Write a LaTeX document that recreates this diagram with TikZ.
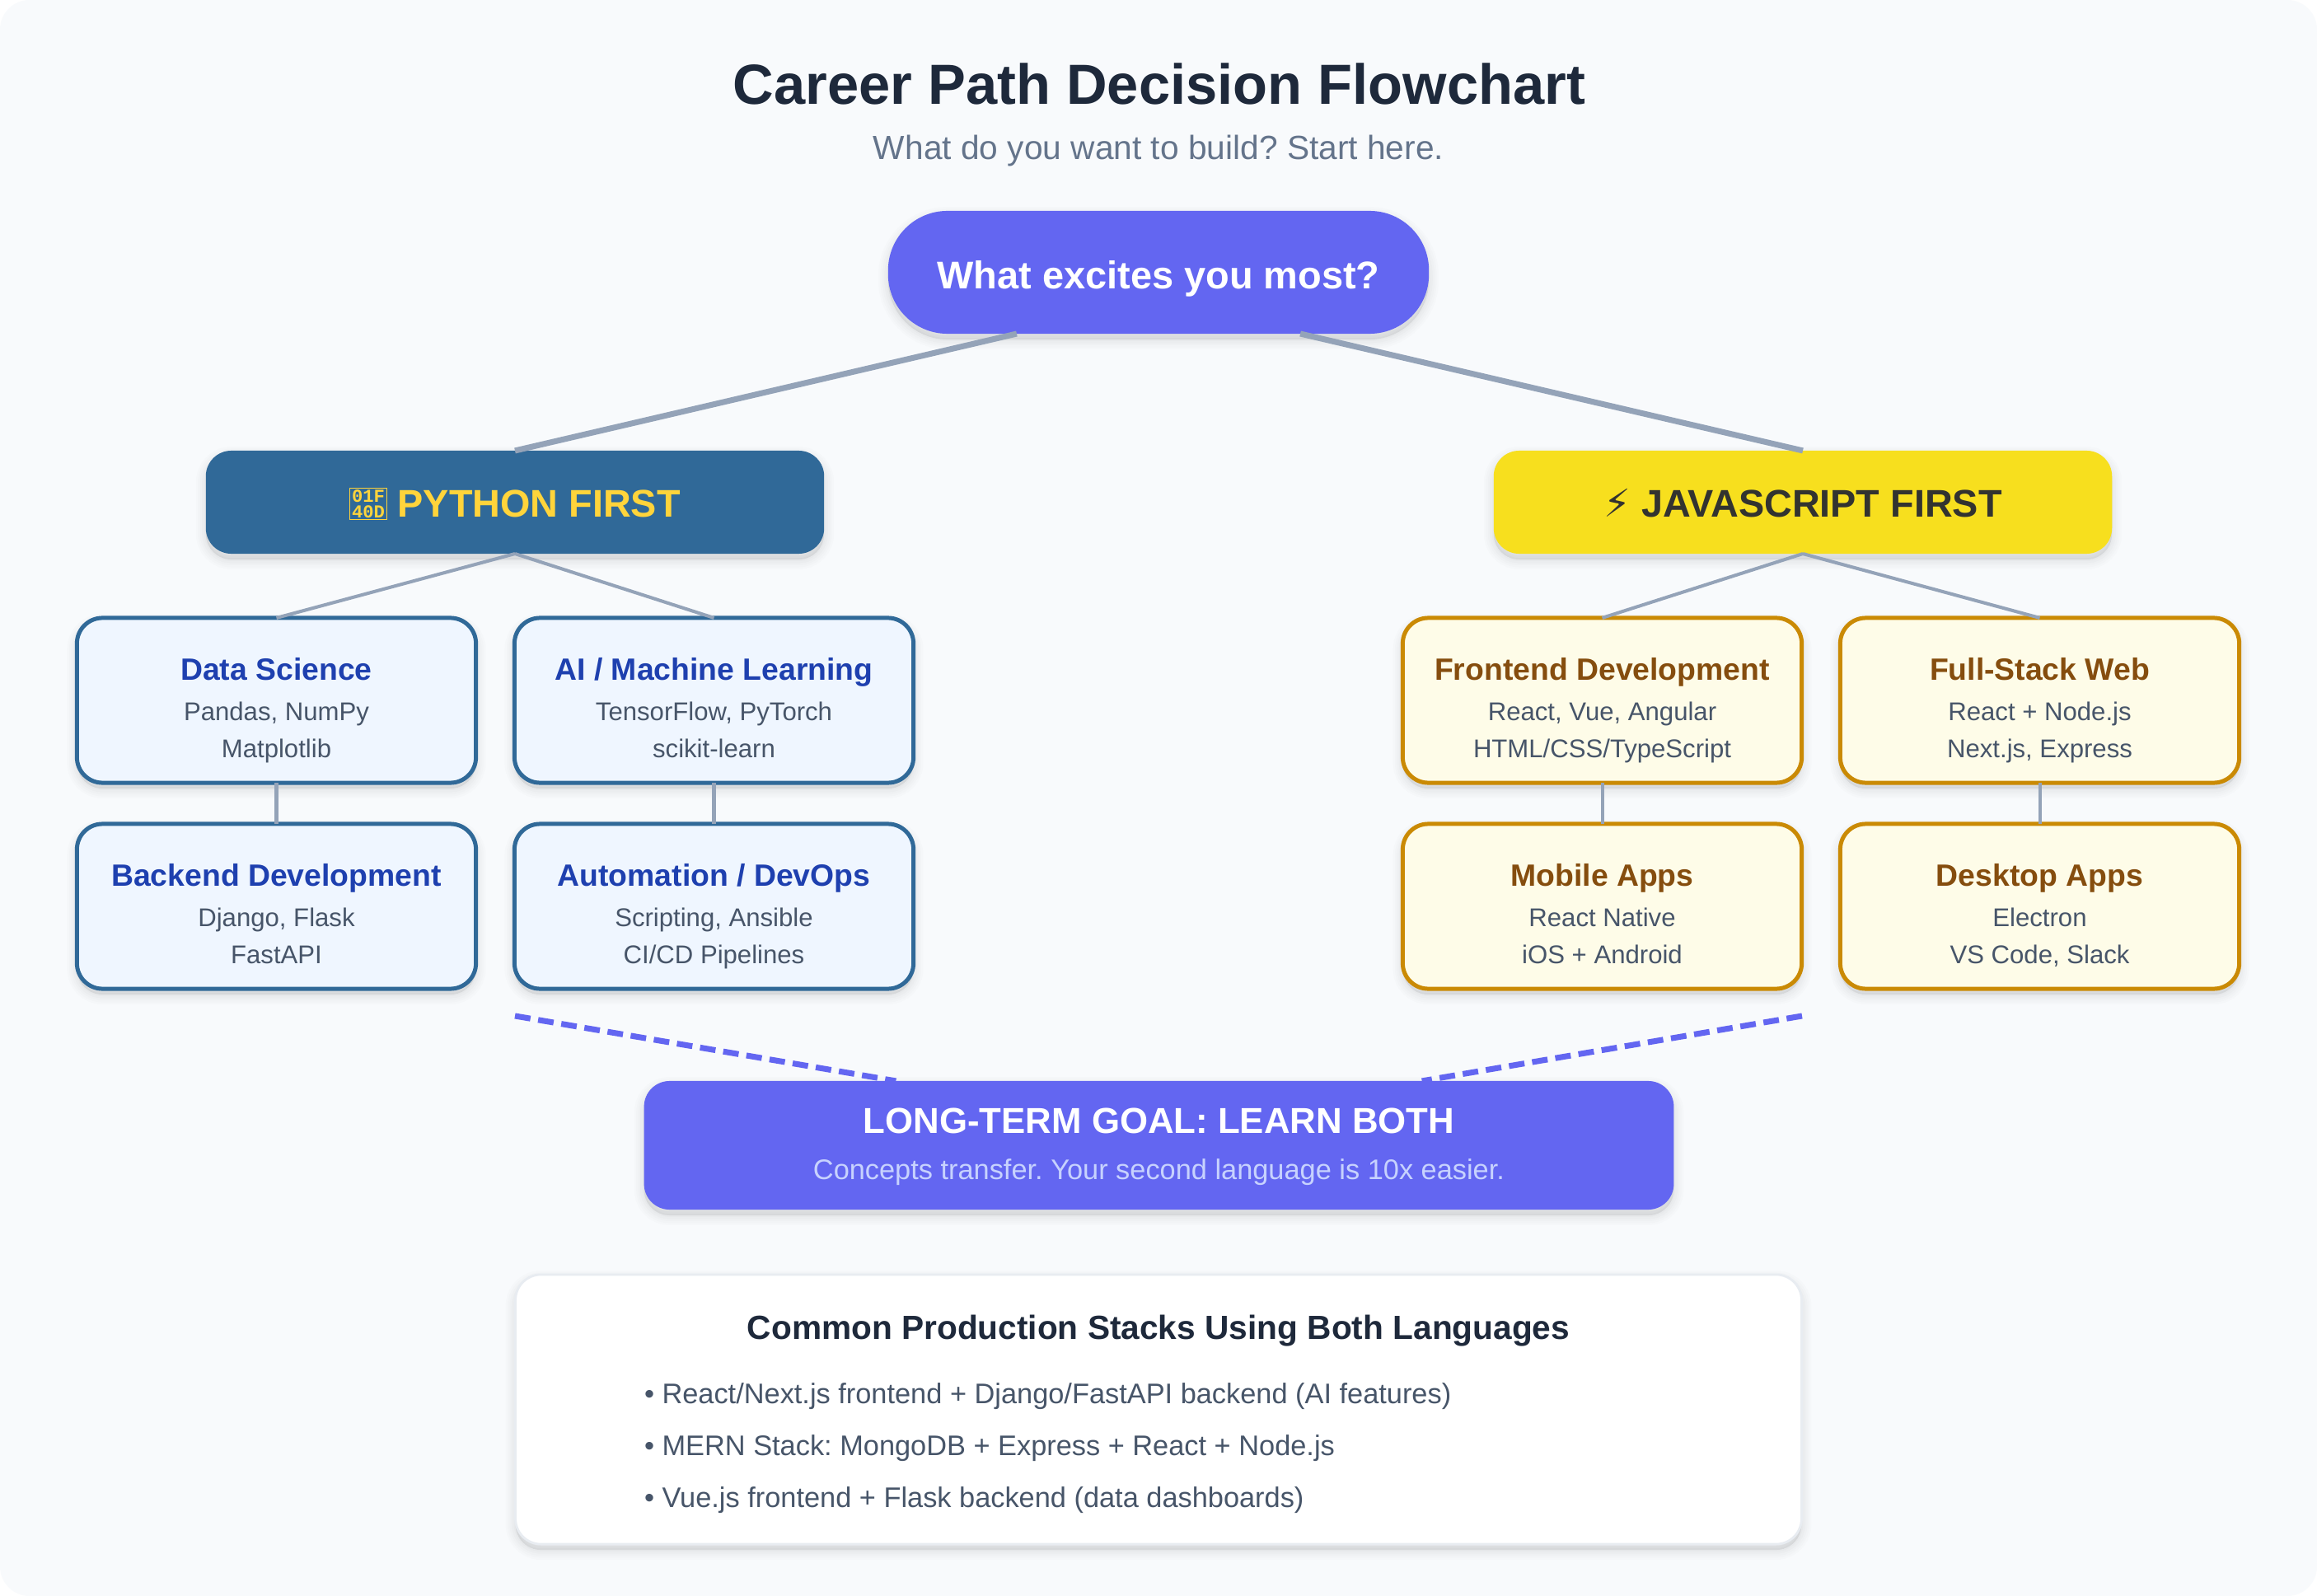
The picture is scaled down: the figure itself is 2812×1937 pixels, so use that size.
\documentclass[tikz,border=0pt]{standalone}
\usepackage{fontspec}
\setmainfont{Liberation Sans}
\newfontfamily\symfont{DejaVu Sans}
\newfontfamily\tofufont{Liberation Mono}
\usetikzlibrary{positioning}

\definecolor{pageback}{HTML}{F8FAFC}
\definecolor{indigo}{HTML}{6366F1}
\definecolor{pyblue}{HTML}{306998}
\definecolor{pyyellow}{HTML}{FFD43B}
\definecolor{jsyellow}{HTML}{F7DF1E}
\definecolor{jsdark}{HTML}{323330}
\definecolor{pyfill}{HTML}{EFF6FF}
\definecolor{pyhead}{HTML}{1E40AF}
\definecolor{jsfill}{HTML}{FEFCE8}
\definecolor{jsline}{HTML}{CA8A04}
\definecolor{jshead}{HTML}{854D0E}
\definecolor{inktitle}{HTML}{1E293B}
\definecolor{inkbody}{HTML}{475569}
\definecolor{inkmuted}{HTML}{64748B}
\definecolor{wire}{HTML}{94A3B8}
\definecolor{softblue}{HTML}{C7D2FE}
\definecolor{rimline}{HTML}{E8ECF1}

\newcommand{\cardhead}[2]{{\fontsize{10.62pt}{12.8pt}\selectfont\bfseries\color{#1}#2}}
\newcommand{\tofubox}{\raisebox{-0.05pt}{\fboxsep=0.5pt\fboxrule=0.3pt\fbox{\vbox{\baselineskip=5.2pt\hbox{\tofufont\fontsize{6.3pt}{5.2pt}\selectfont 01F}\hbox{\tofufont\fontsize{6.3pt}{5.2pt}\selectfont 40D}}}}}

\tikzset{
    softshadow/.style={
        preaction={draw=black,fill=black,opacity=.010,line width=6.8pt,transform canvas={yshift=-.07cm}},
        preaction={draw=black,fill=black,opacity=.012,line width=5.4pt,transform canvas={yshift=-.07cm}},
        preaction={draw=black,fill=black,opacity=.012,line width=4pt,transform canvas={yshift=-.07cm}},
        preaction={draw=black,fill=black,opacity=.014,line width=2.6pt,transform canvas={yshift=-.07cm}},
        preaction={draw=black,fill=black,opacity=.014,line width=1.1pt,transform canvas={yshift=-.07cm}}
    },
    basebox/.style={rounded corners=.31cm,inner sep=0pt,outer sep=0pt,softshadow},
    card/.style={basebox,line width=1.42pt,minimum width=4.84cm,minimum height=2cm,align=center,
        text height=39.3pt,text depth=0pt,text=inkbody,font=\fontsize{8.85pt}{12.8pt}\selectfont},
    pycard/.style={card,draw=pyblue,fill=pyfill},
    jscard/.style={card,draw=jsline,fill=jsfill},
    branch/.style={basebox,minimum width=7.5cm,minimum height=1.25cm,text height=10.5pt,text depth=0pt,
        font=\fontsize{13.3pt}{15pt}\selectfont\bfseries},
    textline/.style={inner sep=0pt,outer sep=0pt,anchor=base},
    trunk/.style={draw=wire,line width=2pt},
    twig/.style={draw=wire,line width=1.15pt},
    goalline/.style={draw=indigo,line width=2pt,dash pattern=on 5.4pt off 2.7pt}
}

\begin{document}
\frenchspacing
\begin{tikzpicture}[x=0.01cm,y=-0.01cm]
    \useasboundingbox (0,0) rectangle (2812,1937);
    \fill [white] (0,0) rectangle (2812,1937);
    \fill [pageback,rounded corners=.36cm] (0,0) rectangle (2812,1937);

    \node [textline,text=inktitle,font=\fontsize{19.53pt}{22pt}\selectfont\bfseries] (title) at (1407,127) {Career Path Decision Flowchart};
    \node [textline,text=inkmuted,font=\fontsize{11.57pt}{14pt}\selectfont] (subtitle) at (1406,194) {What do you want to build? Start here.};

    \node [basebox,rounded corners=.72cm,fill=indigo,text=white,minimum width=6.56cm,minimum height=1.49cm,text height=11.6pt,text depth=0pt,font=\fontsize{13.34pt}{17pt}\selectfont\bfseries] (root) at (1406,330.5) {What excites you most?};

    \node [branch,fill=pyblue,text=pyyellow] (python) at (625,609.5) {\tofubox{} PYTHON FIRST};
    \node [branch,fill=jsyellow,text=jsdark] (javascript) at (2188,609.5) {{\symfont\symbol{"26A1}} JAVASCRIPT FIRST};

    \node [pycard] (datascience) at (335.5,850) {\cardhead{pyhead}{Data Science}\\[1.14pt]Pandas, NumPy\\Matplotlib};
    \node [pycard] (machinelearning) at (866.5,850) {\cardhead{pyhead}{AI / Machine Learning}\\[1.14pt]TensorFlow, PyTorch\\scikit-learn};
    \node [pycard] (backend) at (335.5,1100) {\cardhead{pyhead}{Backend Development}\\[1.14pt]Django, Flask\\FastAPI};
    \node [pycard] (automation) at (866.5,1100) {\cardhead{pyhead}{Automation / DevOps}\\[1.14pt]Scripting, Ansible\\CI/CD Pipelines};

    \node [jscard] (frontend) at (1944.5,850) {\cardhead{jshead}{Frontend Development}\\[1.14pt]React, Vue, Angular\\HTML/CSS/TypeScript};
    \node [jscard] (fullstack) at (2475.5,850) {\cardhead{jshead}{Full-Stack Web}\\[1.14pt]React + Node.js\\Next.js, Express};
    \node [jscard] (mobile) at (1944.5,1100) {\cardhead{jshead}{Mobile Apps}\\[1.14pt]React Native\\iOS + Android};
    \node [jscard] (desktop) at (2475.5,1100) {\cardhead{jshead}{Desktop Apps}\\[1.14pt]Electron\\VS Code, Slack};

    \node [basebox,fill=indigo,text=white,minimum width=12.49cm,minimum height=1.56cm,align=center,text height=23.6pt,text depth=0pt,font=\fontsize{12.45pt}{15.9pt}\selectfont] (goal) at (1406.5,1390) {{\bfseries LONG-TERM GOAL: LEARN BOTH}\\{\fontsize{9.77pt}{15.9pt}\selectfont\color{softblue}Concepts transfer. Your second language is 10x easier.}};

    \node [basebox,fill=white,draw=rimline,line width=.8pt,minimum width=15.6cm,minimum height=3.27cm] (stacks) at (1406,1710.5) {};
    \node [textline,text=inktitle,font=\fontsize{11.56pt}{14pt}\selectfont\bfseries] (stackstitle) at (1406,1625) {Common Production Stacks Using Both Languages};
    \node [textline,anchor=base west,text=inkbody,font=\fontsize{9.77pt}{12pt}\selectfont] (stackone) at (782,1703) {• React/Next.js frontend + Django/FastAPI backend (AI features)};
    \node [textline,anchor=base west,text=inkbody,font=\fontsize{9.77pt}{12pt}\selectfont] (stacktwo) at (782,1766) {• MERN Stack: MongoDB + Express + React + Node.js};
    \node [textline,anchor=base west,text=inkbody,font=\fontsize{9.77pt}{12pt}\selectfont] (stackthree) at (782,1829) {• Vue.js frontend + Flask backend (data dashboards)};

    \coordinate (dashleft) at (625,1233);
    \coordinate (dashright) at (2187,1233);

    \draw [trunk] ([xshift=-1.72cm]root.south) -- (python.north);
    \draw [trunk] ([xshift=1.72cm]root.south) -- (javascript.north);

    \draw [twig] (python.south) -- (datascience.north);
    \draw [twig] (python.south) -- (machinelearning.north);
    \draw [twig] (datascience.south) -- (backend.north);
    \draw [twig] (machinelearning.south) -- (automation.north);

    \draw [twig] (javascript.south) -- (frontend.north);
    \draw [twig] (javascript.south) -- (fullstack.north);
    \draw [twig] (frontend.south) -- (mobile.north);
    \draw [twig] (fullstack.south) -- (desktop.north);

    \draw [goalline] (dashleft) -- ([xshift=-3.19cm]goal.north);
    \draw [goalline] (dashright) -- ([xshift=3.19cm]goal.north);
\end{tikzpicture}
\end{document}
